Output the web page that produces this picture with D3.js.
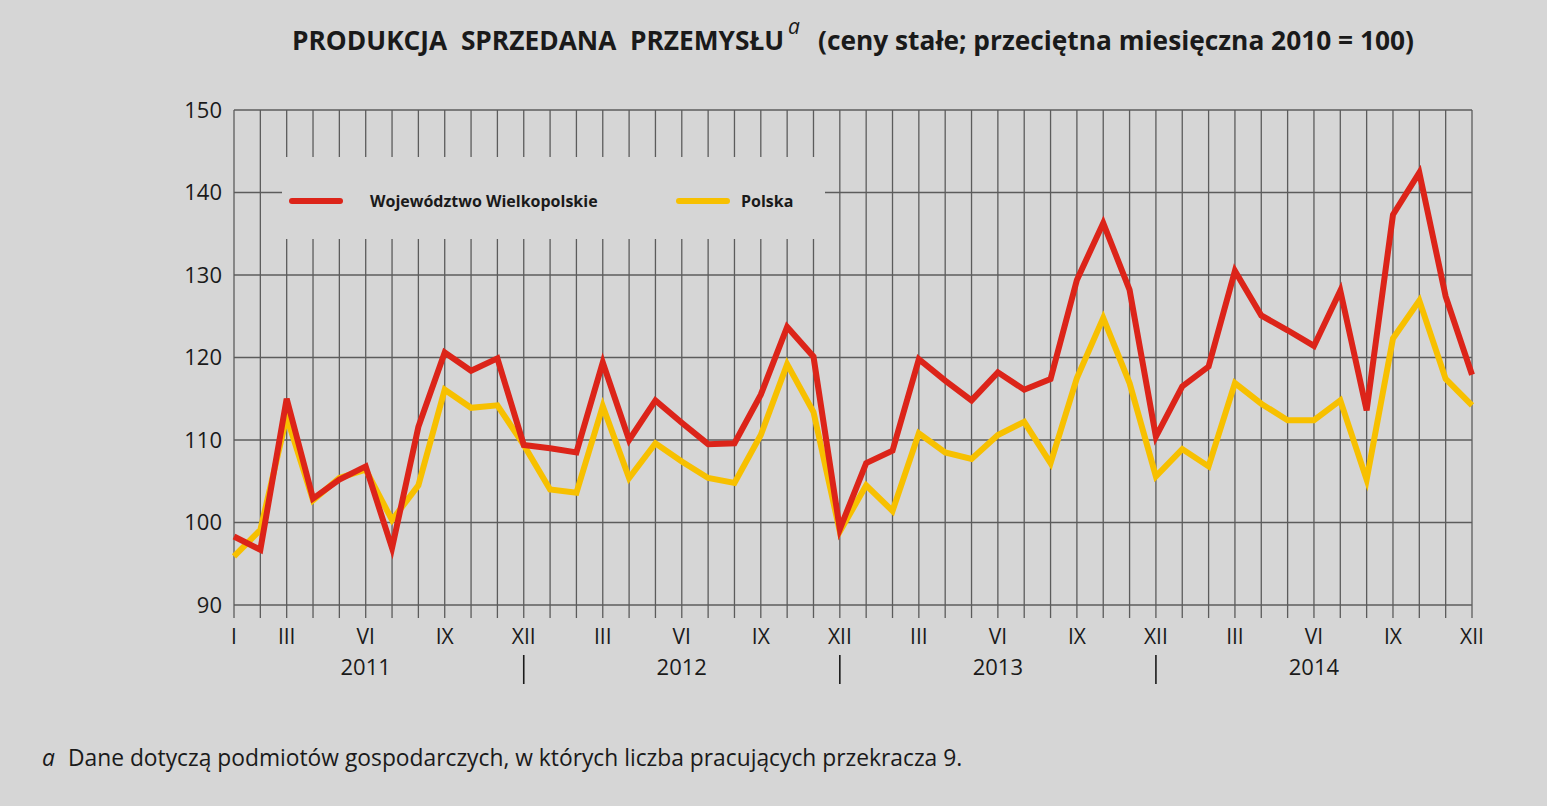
<!DOCTYPE html>
<html>
<head>
<meta charset="utf-8">
<script src="https://cdn.jsdelivr.net/npm/d3@7"></script>
<style>
  html, body { margin: 0; padding: 0; background: #d6d6d6; }
  svg { display: block; }
  text { font-family: "Open Sans", sans-serif; fill: #1a1a1a; }
</style>
</head>
<body>
<svg id="chart" width="1547" height="806"></svg>
<script>
// ---- data ----
const years = ["2011", "2012", "2013", "2014"];
const monthTickLabels = ["I", "III", "VI", "IX", "XII"];
const monthTickIndex = [0, 2, 5, 8, 11];
const yTicks = [90, 100, 110, 120, 130, 140, 150];
const seriesNames = ["Województwo Wielkopolskie", "Polska"];
const wielkopolskie = [98.3, 96.7, 115.0, 102.9, 105.2, 106.8, 96.9, 111.6, 120.6, 118.4, 119.9, 109.4,
  109.0, 108.5, 119.4, 110.0, 114.8, 112.1, 109.5, 109.6, 115.5, 123.7, 120.1, 99.2,
  107.2, 108.7, 119.8, 117.2, 114.8, 118.2, 116.1, 117.4, 129.4, 136.3, 128.2, 110.4,
  116.5, 118.9, 130.5, 125.1, 123.3, 121.4, 128.1, 113.6, 137.3, 142.4, 127.4, 117.9];
const polska = [95.9, 99.1, 112.8, 102.7, 105.4, 106.4, 100.3, 104.5, 116.1, 113.9, 114.2, 109.4,
  104.0, 103.6, 114.1, 105.4, 109.6, 107.4, 105.4, 104.8, 110.6, 119.2, 113.4, 98.9,
  104.5, 101.4, 110.8, 108.5, 107.7, 110.6, 112.2, 107.2, 117.5, 124.8, 116.9, 105.6,
  108.9, 106.8, 116.9, 114.4, 112.4, 112.4, 114.8, 105.2, 122.3, 126.9, 117.4, 114.2];
const colors = ["#dc2419", "#f7c000"];

// ---- layout ----
const svg = d3.select("#chart");
const pLeft = 234, pRight = 1472, pTop = 110, pBottom = 605;
const n = wielkopolskie.length;
const x = d3.scaleLinear().domain([0, n - 1]).range([pLeft, pRight]);
const y = d3.scaleLinear().domain([90, 150]).range([pBottom, pTop]);
const gridColor = "#5c5c5c";

svg.append("rect").attr("width", 1547).attr("height", 806).attr("fill", "#d6d6d6");

// title
svg.append("text").attr("x", 292).attr("y", 50)
  .attr("font-size", 26.3).attr("font-weight", 700).style("white-space", "pre")
  .text("PRODUKCJA  SPRZEDANA  PRZEMYSŁU");
svg.append("text").attr("x", 788).attr("y", 34).attr("font-size", 21)
  .attr("font-style", "italic").text("a");
svg.append("text").attr("x", 818).attr("y", 50).attr("font-size", 26.3)
  .attr("font-weight", 700).text("(ceny stałe; przeciętna miesięczna 2010 = 100)");

// grid
const grid = svg.append("g").attr("stroke", gridColor).attr("stroke-width", 1.3);
grid.selectAll("line.h").data(yTicks).join("line")
  .attr("class", "h")
  .attr("x1", pLeft).attr("x2", pRight)
  .attr("y1", d => y(d)).attr("y2", d => y(d));
grid.selectAll("line.v").data(d3.range(n)).join("line")
  .attr("class", "v")
  .attr("x1", d => x(d)).attr("x2", d => x(d))
  .attr("y1", pTop).attr("y2", pBottom + 13);

// y axis labels
svg.append("g").selectAll("text").data(yTicks).join("text")
  .attr("x", 222).attr("y", d => y(d)).attr("dy", "0.35em")
  .attr("text-anchor", "end").attr("font-size", 22).text(d => d);

// x month labels
const monthLabels = [];
years.forEach((yr, yi) => {
  monthTickIndex.forEach((mi, k) => {
    if (yi > 0 && mi === 0) return;
    monthLabels.push({ i: yi * 12 + mi, label: monthTickLabels[k] });
  });
});
svg.append("g").selectAll("text").data(monthLabels).join("text")
  .attr("x", d => x(d.i)).attr("y", 644).attr("text-anchor", "middle")
  .attr("font-size", 21).text(d => d.label);

// year labels and separators
svg.append("g").selectAll("text").data(years).join("text")
  .attr("x", (d, i) => x(i * 12 + 5)).attr("y", 675).attr("text-anchor", "middle")
  .attr("font-size", 22).text(d => d);
svg.append("g").selectAll("line").data(years.slice(1)).join("line")
  .attr("x1", (d, i) => x(i * 12 + 11)).attr("x2", (d, i) => x(i * 12 + 11))
  .attr("y1", 655).attr("y2", 684).attr("stroke", "#1a1a1a").attr("stroke-width", 1.6);

// legend background (covers grid)
svg.append("rect").attr("x", 282).attr("y", 157).attr("width", 543).attr("height", 82)
  .attr("fill", "#d6d6d6");

// lines
const line = d3.line().x((d, i) => x(i)).y(d => y(d));
[polska, wielkopolskie].forEach((s, k) => {
  svg.append("path").datum(s).attr("d", line)
    .attr("fill", "none").attr("stroke", k === 0 ? colors[1] : colors[0])
    .attr("stroke-width", 6).attr("stroke-linejoin", "miter").attr("stroke-miterlimit", 4);
});

// legend
const legendItems = [
  { name: seriesNames[0], color: colors[0], lx: 292, tx: 370 },
  { name: seriesNames[1], color: colors[1], lx: 679, tx: 741 }
];
const lg = svg.append("g");
legendItems.forEach(d => {
  lg.append("line").attr("x1", d.lx).attr("x2", d.lx + 48).attr("y1", 201).attr("y2", 201)
    .attr("stroke", d.color).attr("stroke-width", 6).attr("stroke-linecap", "round");
  lg.append("text").attr("x", d.tx).attr("y", 201).attr("dy", "0.35em")
    .attr("font-size", 16).attr("font-weight", 700).attr("fill", "#111").text(d.name);
});

// footnote
svg.append("text").attr("x", 42).attr("y", 766).attr("font-size", 22.8)
  .attr("font-style", "italic").text("a");
svg.append("text").attr("x", 68).attr("y", 766).attr("font-size", 22.8)
  .text("Dane dotyczą podmiotów gospodarczych, w których liczba pracujących przekracza 9.");
</script>
</body>
</html>
